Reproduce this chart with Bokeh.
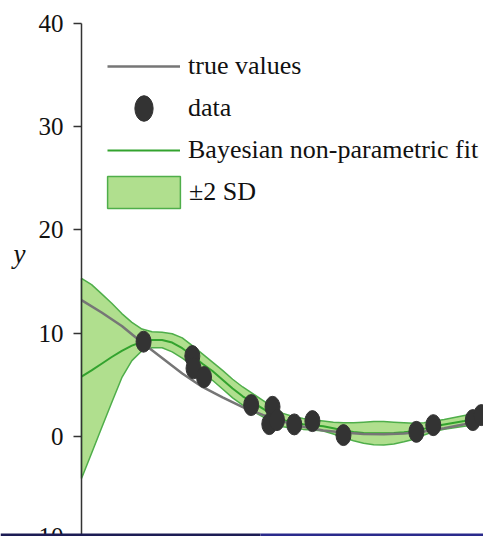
from bokeh.plotting import figure
from bokeh.models import Legend, LegendItem, Label, FixedTicker, Range1d, BoxAnnotation
from bokeh.embed import file_html
from bokeh.resources import INLINE

# ---- data ----
grid_x = [0.0, 0.25, 0.5, 0.75, 1.0, 1.25, 1.5, 1.75, 2.0, 2.25, 2.5, 2.75, 3.0, 3.25,
          3.5, 3.75, 4.0, 4.25, 4.5, 4.75, 5.0, 5.25, 5.5, 5.75, 6.0, 6.25, 6.5, 6.75,
          7.0, 7.25, 7.5, 7.75, 8.0, 8.25, 8.5, 8.75, 9.0, 9.25, 9.5, 9.75, 10.0]
fit_mean = [5.8, 6.4, 7.05, 7.7, 8.3, 8.8, 9.15, 9.35, 9.35, 9.1, 8.55, 7.85, 7.05, 6.35,
            5.5, 4.65, 3.9, 3.3, 2.7, 2.1, 1.6, 1.35, 1.2, 1.1, 1.0, 0.8, 0.6, 0.45,
            0.35, 0.32, 0.32, 0.35, 0.42, 0.52, 0.75, 1.0, 1.18, 1.35, 1.52, 1.7, 1.87]
fit_upper = [15.3, 14.7, 13.8, 12.9, 11.9, 11.05, 10.4, 10.15, 10.1, 9.95, 9.55, 8.8, 8.0, 7.2,
             6.4, 5.55, 4.8, 4.15, 3.5, 2.85, 2.25, 1.95, 1.75, 1.6, 1.5, 1.4, 1.35, 1.35,
             1.4, 1.45, 1.45, 1.4, 1.35, 1.3, 1.35, 1.5, 1.65, 1.85, 2.05, 2.25, 2.45]
fit_lower = [-4.05, -1.6, 0.85, 3.3, 5.7, 7.35, 8.3, 8.6, 8.6, 8.2, 7.6, 6.9, 6.1, 5.45,
             4.6, 3.75, 3.05, 2.45, 1.9, 1.35, 0.95, 0.8, 0.7, 0.65, 0.55, 0.25, -0.1, -0.4,
             -0.65, -0.78, -0.8, -0.72, -0.5, -0.25, 0.15, 0.5, 0.7, 0.85, 1.0, 1.15, 1.3]

true_x = [0.0, 0.5, 1.0, 1.5, 2.0, 2.5, 3.0, 3.5, 4.0, 4.5, 5.0,
          5.5, 6.0, 6.5, 7.0, 7.5, 8.0, 8.5, 9.0, 9.5, 10.0]
true_y = [13.2, 12.0, 10.7, 9.1, 7.6, 6.1, 4.8, 3.8, 2.85, 2.1, 1.45,
          0.95, 0.6, 0.4, 0.25, 0.22, 0.3, 0.5, 0.8, 1.2, 1.65]

data_x = [1.54, 2.75, 2.78, 3.04, 4.21, 4.74, 4.66, 4.85, 5.28, 5.73, 6.5, 8.31, 8.73, 9.71, 9.92]
data_y = [9.18, 7.79, 6.6, 5.76, 3.05, 2.88, 1.21, 1.6, 1.18, 1.5, 0.15, 0.46, 1.11, 1.6, 2.08]

y_ticks = [-10, 0, 10, 20, 30, 40]
legend_labels = ["true values", "data", "Bayesian non-parametric fit", "\u00b12 SD"]
y_label = "y"
bottom_tick_label = "\u221210"

SERIF = "Liberation Serif"

# frame fills the canvas; the y axis is pinned at x = 0
p = figure(width=483, height=536, x_range=Range1d(-2.01, 9.975), y_range=Range1d(-9.66, 41.5),
           output_backend="svg", toolbar_location=None, x_axis_location=None,
           min_border_left=0, min_border_right=0, min_border_top=7, min_border_bottom=0)
p.outline_line_color = None
p.xgrid.visible = False
p.ygrid.visible = False
p.background_fill_color = "white"

ax = p.yaxis[0]
ax.fixed_location = 0
ax.bounds = (-10, 40)
ax.ticker = FixedTicker(ticks=y_ticks)
ax.axis_line_color = "#333333"
ax.axis_line_width = 1.5
ax.major_tick_line_color = "#333333"
ax.major_tick_line_width = 1.5
ax.major_tick_out = 8
ax.major_tick_in = 0
ax.minor_tick_out = 0
ax.minor_tick_in = 0
ax.major_label_text_font = SERIF
ax.major_label_text_font_size = "25px"
ax.major_label_text_color = "#111111"
ax.major_label_standoff = 10

band_xs = grid_x + grid_x[::-1]
band_ys = fit_upper + fit_lower[::-1]
band = p.patch(band_xs, band_ys, fill_color="#b0df8e", fill_alpha=1.0,
               line_color="#4fae4a", line_width=1.5)
fit = p.line(grid_x, fit_mean, line_color="#33a32e", line_width=2)
true = p.line(true_x, true_y, line_color="#767676", line_width=2.5)
pts = p.ellipse(data_x, data_y, width=15, height=21, width_units="screen",
                height_units="screen", fill_color="#333333", line_color="#333333")

leg1 = Legend(items=[LegendItem(label=legend_labels[0], renderers=[true]),
                     LegendItem(label=legend_labels[1], renderers=[pts]),
                     LegendItem(label=legend_labels[2], renderers=[fit])],
              location=(107, 370))
leg2 = Legend(items=[LegendItem(label=legend_labels[3], renderers=[band])],
              location=(98, 324))
for lg, gw, gh, st in ((leg1, 73, 32, 8), (leg2, 91, 40, 0)):
    lg.border_line_color = None
    lg.background_fill_alpha = 0
    lg.padding = 0
    lg.margin = 0
    lg.spacing = 10
    lg.glyph_width = gw
    lg.glyph_height = gh
    lg.label_standoff = st
    lg.label_height = gh
    lg.label_text_font = SERIF
    lg.label_text_font_size = "26px"
    lg.label_text_color = "#111111"
    p.add_layout(lg)

p.add_layout(Label(x=0, y=17.7, x_offset=-62, text=y_label, text_font=SERIF,
                   text_font_style="italic", text_font_size="27px", text_color="#111111",
                   text_align="center", text_baseline="middle"))
# the -10 tick label, cut by the bottom edge as in the reference
p.add_layout(Label(x=0, y=-10, x_offset=-18, y_offset=3.5, text=bottom_tick_label,
                   text_font=SERIF, text_font_size="25px", text_color="#111111",
                   text_align="right", text_baseline="middle"))

# dark strip along the bottom edge of the picture
p.add_layout(BoxAnnotation(top=-9.37, right=4.44, fill_color="#1c1c54", fill_alpha=1.0,
                           line_color=None))
p.add_layout(BoxAnnotation(top=-9.37, left=4.44, fill_color="#2a2a8c", fill_alpha=1.0,
                           line_color=None))

open("out.html", "w").write(file_html(p, INLINE))
